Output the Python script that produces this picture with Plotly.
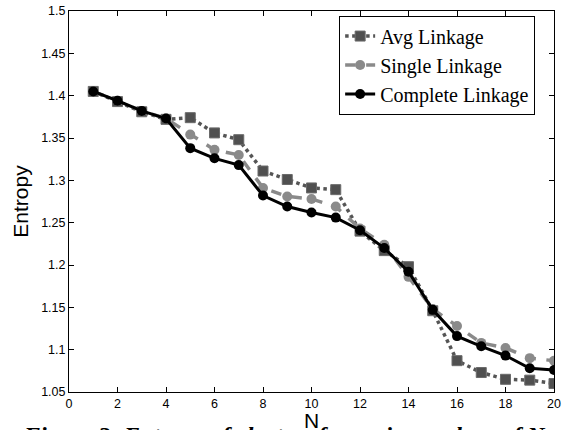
import plotly.graph_objects as go

N = list(range(1, 21))
avg_linkage = [1.405, 1.393, 1.381, 1.372, 1.374, 1.356, 1.348, 1.311, 1.301, 1.291,
               1.289, 1.240, 1.217, 1.198, 1.146, 1.087, 1.073, 1.065, 1.064, 1.060]
single_linkage = [1.405, 1.394, 1.382, 1.373, 1.354, 1.336, 1.330, 1.291, 1.281, 1.278,
                  1.269, 1.243, 1.224, 1.186, 1.148, 1.128, 1.108, 1.102, 1.090, 1.087]
complete_linkage = [1.405, 1.394, 1.382, 1.373, 1.338, 1.326, 1.318, 1.282, 1.269, 1.262,
                    1.256, 1.241, 1.220, 1.192, 1.147, 1.116, 1.104, 1.093, 1.078, 1.076]
x_ticks = list(range(0, 21, 2))
y_ticks = [1.05, 1.1, 1.15, 1.2, 1.25, 1.3, 1.35, 1.4, 1.45, 1.5]
y_tick_text = ["1.05", "1.1", "1.15", "1.2", "1.25", "1.3", "1.35", "1.4", "1.45", "1.5"]

fig = go.Figure()
fig.add_trace(go.Scatter(
    x=N, y=avg_linkage, name="Avg Linkage", mode="lines+markers",
    line=dict(color="#555555", width=3.5, dash="dot"),
    marker=dict(symbol="square", size=10, color="#505050",
                line=dict(color="#6a6a6a", width=1))))
fig.add_trace(go.Scatter(
    x=N, y=single_linkage, name="Single Linkage", mode="lines+markers",
    line=dict(color="#8a8a8a", width=3.5, dash="dash"),
    marker=dict(symbol="circle", size=10, color="#8a8a8a")))
fig.add_trace(go.Scatter(
    x=N, y=complete_linkage, name="Complete Linkage", mode="lines+markers",
    line=dict(color="#000000", width=3),
    marker=dict(symbol="circle", size=10, color="#000000")))

axis_common = dict(showline=True, linecolor="black", linewidth=1, mirror="ticks",
                   ticks="inside", ticklen=5, tickcolor="black", showgrid=False,
                   zeroline=False, automargin=False,
                   tickfont=dict(family="Liberation Sans, Arial", size=12.5, color="black"))
fig.update_xaxes(range=[0, 20], tickvals=x_ticks, **axis_common)
fig.update_yaxes(range=[1.05, 1.5], tickvals=y_ticks, ticktext=y_tick_text,
                 title=dict(text="Entropy", font=dict(family="Liberation Sans, Arial", size=21, color="black"),
                            standoff=6),
                 **axis_common)

fig.add_annotation(
    text="<b><i>Figure 3: Entropy of clusters for various values of N</i></b>",
    xref="paper", yref="paper", x=-0.1, y=-0.074, xanchor="left", yanchor="top",
    showarrow=False, font=dict(family="Liberation Serif, Times New Roman", size=24, color="black"))

# x-axis title placed as annotation so it can sit lower than the margin constraint allows
fig.add_annotation(
    text="N", xref="paper", yref="paper", x=0.5, y=-0.074, xanchor="center", yanchor="middle",
    showarrow=False, font=dict(family="Liberation Sans, Arial", size=21, color="black"))

fig.update_layout(
    width=570, height=430,
    margin=dict(l=69, r=16, t=11, b=38, autoexpand=False),
    paper_bgcolor="white", plot_bgcolor="white",
    showlegend=True,
    legend=dict(x=0.557, y=0.988, xanchor="left", yanchor="top",
                bordercolor="black", borderwidth=1, bgcolor="white",
                font=dict(family="Liberation Serif, Times New Roman", size=20, color="black"),
                tracegroupgap=0, itemwidth=30),
)

fig.write_html("out.html", config={"displayModeBar": False},
               post_script="document.body.style.margin='0';document.body.style.overflow='hidden';")
